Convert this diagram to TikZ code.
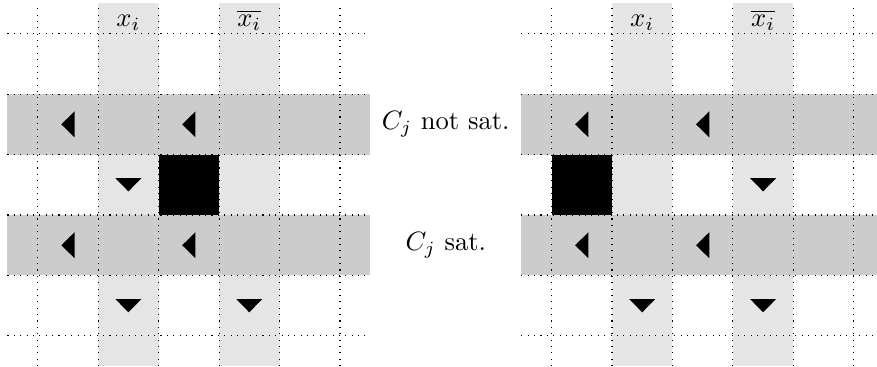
\documentclass[tikz,border=0pt]{standalone}
\begin{document}
\begin{tikzpicture}[x=0.8cm,y=0.8cm,
  lightcol/.style={fill=gray!20},
  darkrow/.style={fill=gray!40},
  gridline/.style={dotted, line width=0.4pt},
  blackcell/.style={fill=black},
  tri/.style={fill=black},
  lbl/.style={anchor=base, inner sep=0pt},
  satlbl/.style={inner sep=2pt}]
\useasboundingbox (-0.624,-5.514) rectangle (13.884,0.557);
\begin{scope}
\clip (-0.624,-5.514) rectangle (13.884,0.557);
\foreach \o in {0,8.5}{
  \begin{scope}[shift={(\o,0)}]
    \fill[lightcol] (1,0.5) rectangle (2,-5.5);
    \fill[lightcol] (3,0.5) rectangle (4,-5.5);
    \fill[darkrow] (-0.5,-1) rectangle (5.5,-2);
    \fill[darkrow] (-0.5,-3) rectangle (5.5,-4);
    % left-pointing triangles
    \foreach \cx/\cy in {0.5/-1.5, 2.5/-1.5, 0.5/-3.5, 2.5/-3.5}
      \fill[tri] (\cx-0.11,\cy) -- (\cx+0.11,\cy+0.215) -- (\cx+0.11,\cy-0.215) -- cycle;
    % down triangles (bottom row)
    \foreach \cx/\cy in {1.5/-4.5, 3.5/-4.5}
      \fill[tri] (\cx,\cy-0.11) -- (\cx-0.215,\cy+0.11) -- (\cx+0.215,\cy+0.11) -- cycle;
  \end{scope}
}
% left panel specifics
\fill[blackcell] (2,-2) rectangle (3,-3);
\fill[tri] (1.5,-2.61) -- (1.285,-2.39) -- (1.715,-2.39) -- cycle;
% right panel specifics
\fill[blackcell] (8.5,-2) rectangle (9.5,-3);
\fill[tri] (12,-2.61) -- (11.785,-2.39) -- (12.215,-2.39) -- cycle;
% dotted grids
\foreach \o in {0,8.5}{
  \begin{scope}[shift={(\o,0)}]
    \foreach \i in {0,...,5}{
      \draw[gridline] (\i,-5.5) -- (\i,0.5);
      \draw[gridline] (-0.5,-\i) -- (5.5,-\i);
    }
  \end{scope}
}
\end{scope}
% labels
\node[lbl] (xa) at (1.5,0.116) {$x_i$};
\node[lbl] (xna) at (3.5,0.116) {$\overline{x_i}$};
\node[lbl] (xb) at (10,0.116) {$x_i$};
\node[lbl] (xnb) at (12,0.116) {$\overline{x_i}$};
\node[satlbl] (notsat) at (6.75,-1.5) {$C_j$ not sat.};
\node[satlbl] (sat) at (6.75,-3.5) {$C_j$ sat.};
\end{tikzpicture}
\end{document}
